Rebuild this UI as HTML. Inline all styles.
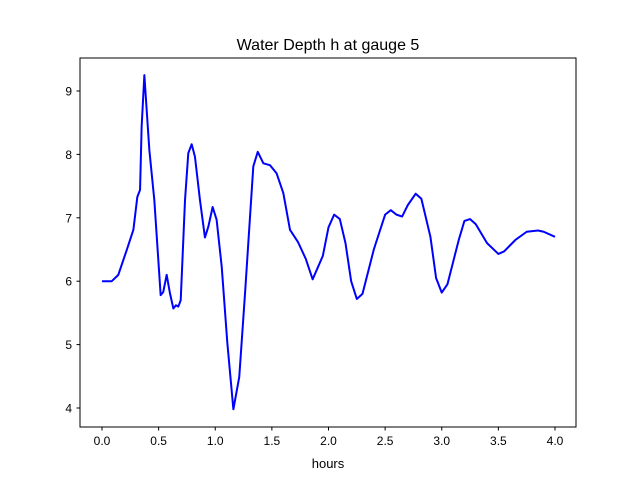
<!DOCTYPE html>
<html><head><meta charset="utf-8"><style>
body{margin:0;background:#fff}
svg{font-family:"Liberation Sans","DejaVu Sans",sans-serif}
</style></head><body>
<svg id="c" width="640" height="480">
<rect width="640" height="480" fill="#fff"/>
<text x="328" y="50" text-anchor="middle" font-size="16">Water Depth h at gauge 5</text>
<g id="axes"></g>
<text x="328" y="468" text-anchor="middle" font-size="13">hours</text>
</svg>
<script>
const hours=[0,0.086,0.144,0.218,0.277,0.312,0.336,0.35,0.374,0.418,0.462,0.518,0.541,0.571,0.6,0.63,0.653,0.674,0.695,0.733,0.762,0.792,0.821,0.865,0.909,0.939,0.977,1.012,1.057,1.107,1.16,1.212,1.263,1.336,1.375,1.425,1.483,1.542,1.601,1.66,1.73,1.8,1.86,1.95,2.0,2.05,2.1,2.15,2.2,2.25,2.3,2.4,2.5,2.55,2.6,2.65,2.7,2.77,2.82,2.9,2.95,3.0,3.05,3.15,3.2,3.25,3.3,3.4,3.5,3.55,3.65,3.75,3.85,3.9,4.0];
const depth=[6.0,6.0,6.1,6.49,6.81,7.33,7.44,8.44,9.25,8.07,7.28,5.78,5.83,6.1,5.81,5.57,5.62,5.6,5.7,7.28,8.02,8.16,7.96,7.28,6.69,6.86,7.17,6.97,6.23,5.02,3.98,4.49,5.81,7.81,8.04,7.86,7.83,7.7,7.39,6.81,6.62,6.35,6.03,6.4,6.85,7.05,6.98,6.6,6.0,5.72,5.8,6.5,7.05,7.12,7.05,7.02,7.2,7.38,7.3,6.7,6.05,5.82,5.95,6.65,6.95,6.98,6.9,6.6,6.43,6.47,6.65,6.78,6.8,6.78,6.7];
const xTicks=[0,0.5,1,1.5,2,2.5,3,3.5,4];
const xTickLabels=["0.0","0.5","1.0","1.5","2.0","2.5","3.0","3.5","4.0"];
const yTicks=[4,5,6,7,8,9];
const yTickLabels=["4","5","6","7","8","9"];
const X=v=>102+v*113.25, Y=v=>91+(9-v)*63.4;
const NS="http://www.w3.org/2000/svg", g=document.getElementById('axes');
function mk(t,a){const e=document.createElementNS(NS,t);for(const k in a)e.setAttribute(k,a[k]);g.appendChild(e);return e;}
const line=mk('polyline',{points:hours.map((h,i)=>X(h)+','+Y(depth[i])).join(' '),fill:'none',stroke:'#0000ff','stroke-width':2,'stroke-linejoin':'round'});


const fr=mk('rect',{x:80,y:58,width:496,height:369,fill:'none',stroke:'#000','stroke-width':1});


xTicks.forEach((v,i)=>{
 const t=mk('line',{x1:X(v),x2:X(v),y1:427,y2:430.5,stroke:'#000'});
 
 
 const l=mk('text',{x:X(v),y:445,'text-anchor':'middle','font-size':12});l.textContent=xTickLabels[i];
 
 
});
yTicks.forEach((v,i)=>{
 const t=mk('line',{x1:76.5,x2:80,y1:Y(v),y2:Y(v),stroke:'#000'});
 
 
 const l=mk('text',{x:72,y:Y(v)+4.5,'text-anchor':'end','font-size':12});l.textContent=yTickLabels[i];
 
 
});
</script>
</body></html>
